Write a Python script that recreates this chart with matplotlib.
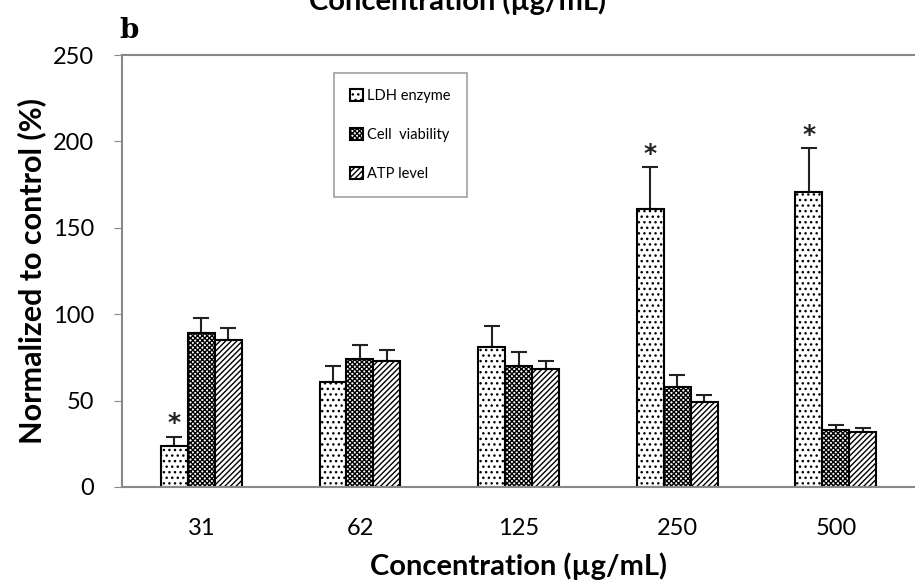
import numpy as np
import matplotlib.pyplot as plt

# Data
concentrations = ['31', '62', '125', '250', '500']
ldh = [24, 61, 81, 161, 171]
ldh_err = [5, 9, 12, 24, 25]
viability = [89, 74, 70, 58, 33]
viability_err = [9, 8, 8, 7, 3]
atp = [85, 73, 68, 49, 32]
atp_err = [7, 6, 5, 4, 2]
significant = [True, False, False, True, True]

plt.rcParams['hatch.linewidth'] = 1.0
plt.rcParams['font.family'] = ['Lato', 'DejaVu Sans']

fig = plt.figure(figsize=(9.15, 5.86), dpi=100)
ax = fig.add_axes([0.1333, 0.169, 0.867, 0.737])

x = np.arange(len(concentrations))
w = 0.17
series = [
    (ldh, ldh_err, '...', 'LDH enzyme'),
    (viability, viability_err, 'xxxxxxx', 'Cell  viability'),
    (atp, atp_err, '//////', 'ATP level'),
]
for i, (vals, errs, hatch, label) in enumerate(series):
    pos = x + (i - 1) * w
    ax.bar(pos, vals, w, color='white', edgecolor='black', hatch=hatch,
           linewidth=1.5, label=label, zorder=2)
    ax.errorbar(pos, vals, yerr=[np.zeros(len(errs)), errs], fmt='none',
                ecolor='#222222', elinewidth=1.5, capsize=6, capthick=1.5, zorder=1)

# significance markers
for xi, v, e, s in zip(x, ldh, ldh_err, significant):
    if s:
        ax.text(xi - w, v + e + 1, '*', ha='center', va='bottom',
                fontsize=18, fontweight='bold', color='#222222', family='DejaVu Sans')

ax.set_xlim(-0.5, 4.5)
ax.set_ylim(0, 250)
ax.set_yticks(range(0, 251, 50))
ax.set_xticks(x)
ax.set_xticklabels(concentrations)
ax.tick_params(axis='x', labelsize=17, length=0, pad=22)
ax.tick_params(axis='y', labelsize=17, length=6, pad=14, direction='out', color='#888888')

for side in ['left', 'bottom', 'top']:
    ax.spines[side].set_color('#888888')
    ax.spines[side].set_linewidth(1.5)
ax.spines['right'].set_visible(False)

ax.set_ylabel('Normalized to control (%)', fontsize=22, fontweight='bold', labelpad=5)
ax.set_xlabel('Concentration (µg/mL)', fontsize=21, fontweight='bold', labelpad=10)

# panel letter and clipped title from the previous panel
fig.text(0.131, 0.935, 'b', fontsize=20, fontweight='bold', family='DejaVu Serif')
fig.text(0.5, 0.983, 'Concentration (µg/mL)', fontsize=21, fontweight='bold', ha='center')

leg = ax.legend(loc='upper left', bbox_to_anchor=(0.258, 0.975), fontsize=10.5,
                frameon=True, fancybox=False, edgecolor='#888888',
                handlelength=0.9, handleheight=0.9, handletextpad=0.3,
                labelspacing=1.7, borderpad=1.1)
leg.get_frame().set_linewidth(1.2)

plt.savefig('out.png', dpi=100)
